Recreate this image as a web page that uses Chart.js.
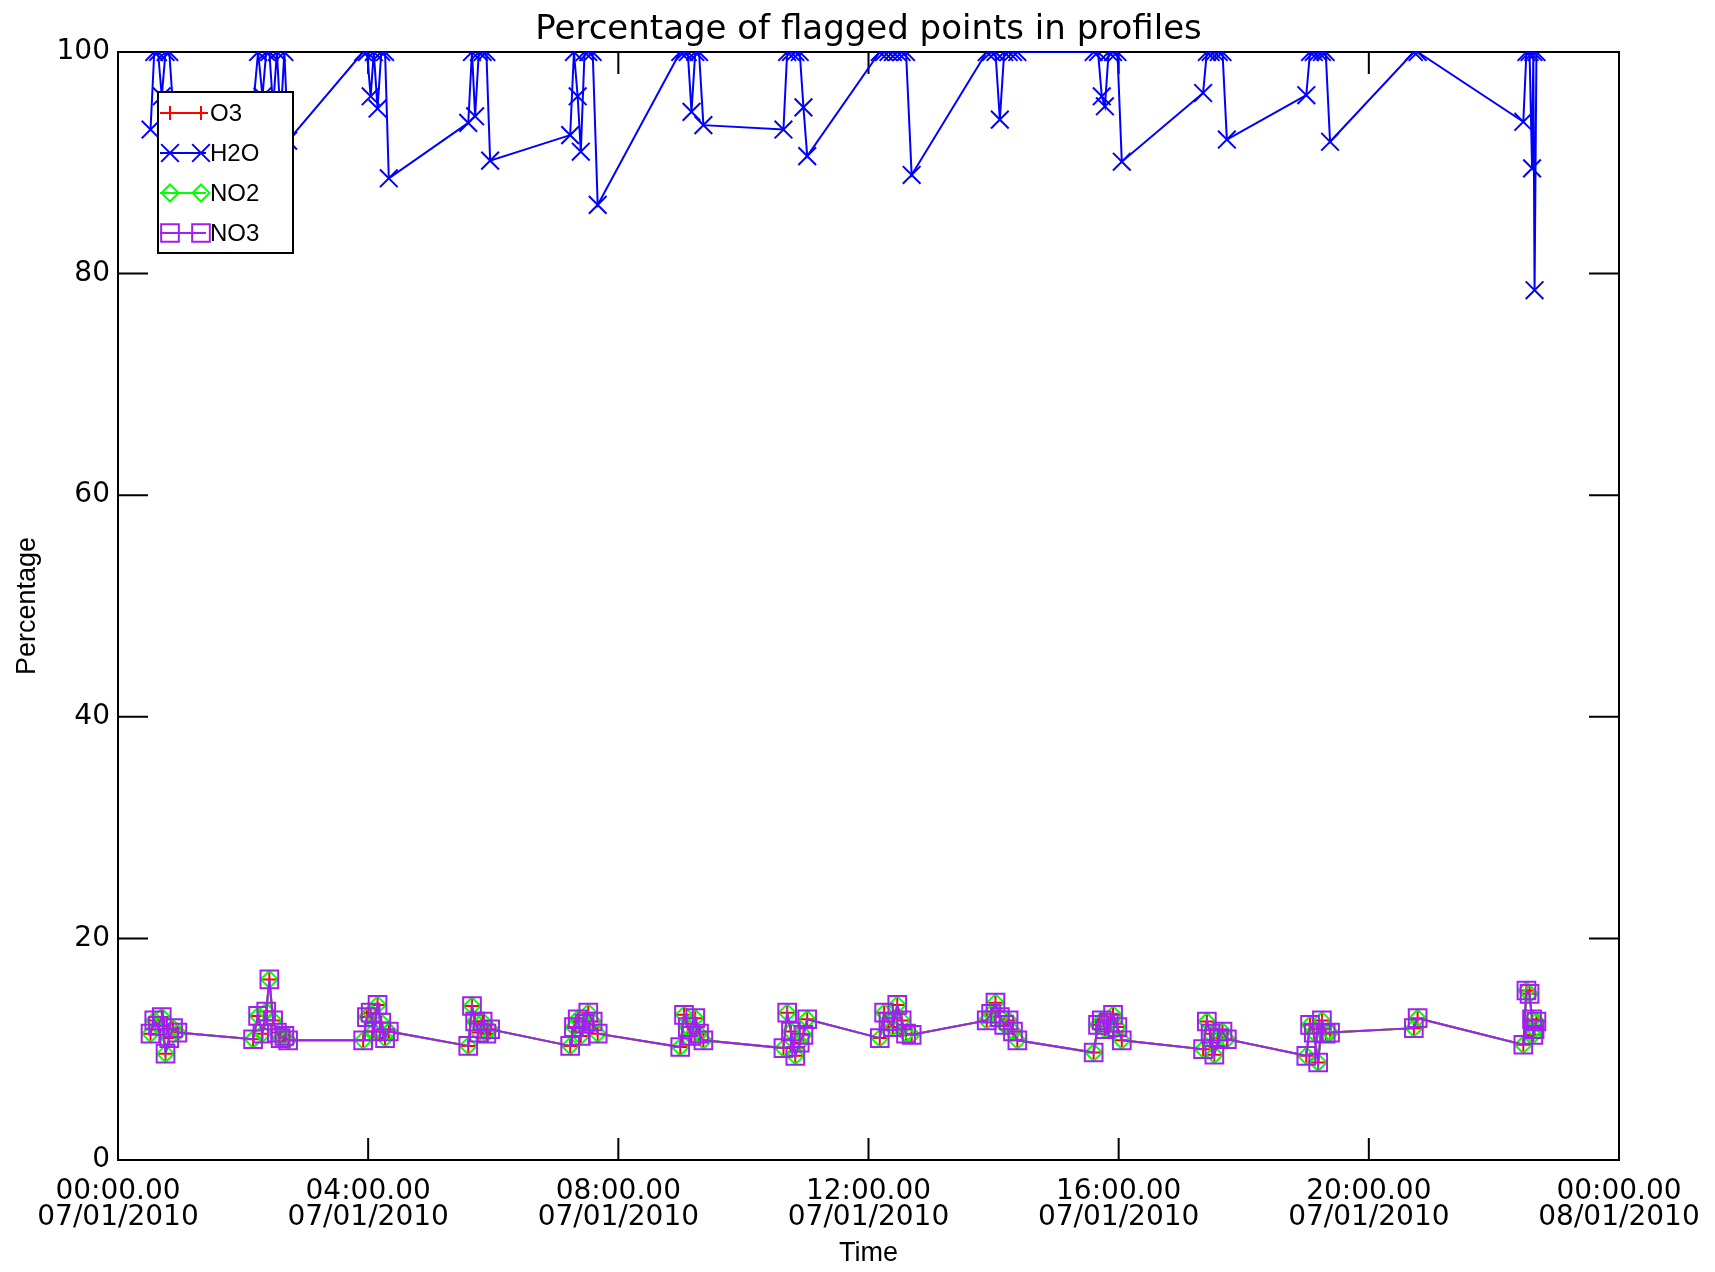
<!DOCTYPE html>
<html>
<head>
<meta charset="utf-8">
<title>Percentage of flagged points in profiles</title>
<script src="https://cdn.jsdelivr.net/npm/chart.js@4.4.1/dist/chart.umd.min.js"></script>
<style>
  html, body { margin: 0; padding: 0; background: #fff; }
  canvas { display: block; }
</style>
</head>
<body>
<canvas id="chart" width="1715" height="1272"></canvas>
<script>
// profile times, hours after 00:00 07/01/2010 (one row per orbit pass)
const HOURS = [
  0.52, 0.58, 0.64, 0.70, 0.76, 0.82, 0.88, 0.95,
  2.16, 2.24, 2.31, 2.37, 2.42, 2.48, 2.54, 2.60, 2.66, 2.72,
  3.92, 3.98, 4.04, 4.09, 4.15, 4.21, 4.27, 4.33,
  5.60, 5.66, 5.71, 5.77, 5.83, 5.89, 5.95,
  7.23, 7.29, 7.35, 7.40, 7.46, 7.52, 7.59, 7.67,
  8.99, 9.05, 9.11, 9.17, 9.23, 9.29, 9.36,
  10.64, 10.70, 10.76, 10.83, 10.90, 10.96, 11.02,
  12.18, 12.25, 12.32, 12.39, 12.46, 12.53, 12.60, 12.69,
  13.89, 13.96, 14.03, 14.10, 14.17, 14.24, 14.31, 14.38,
  15.60, 15.67, 15.73, 15.78, 15.84, 15.91, 15.98, 16.05,
  17.35, 17.41, 17.47, 17.53, 17.60, 17.66, 17.73,
  19.00, 19.06, 19.12, 19.19, 19.25, 19.31, 19.38,
  20.72, 20.78,
  22.47, 22.52, 22.57, 22.61, 22.63, 22.65, 22.68,
];

const H2O = [
  93, 100, 100, 96, 100, 100, 95, 94,
  95, 100, 96, 100, 100, 95, 100, 94, 100, 92,
  100, 100, 96, 100, 94.9, 100, 100, 88.6,
  93.6, 100, 94.2, 100, 100, 100, 90.2,
  92.5, 100, 96, 91.0, 100, 100, 100, 86.2,
  100, 100, 100, 94.6, 100, 100, 93.4,
  93.0, 100, 100, 100, 100, 95, 90.6,
  100, 100, 100, 100, 100, 100, 100, 88.9,
  100, 100, 100, 93.9, 100, 100, 100, 100,
  100, 100, 96, 95.1, 100, 100, 100, 90.1,
  96.3, 100, 100, 100, 100, 100, 92.1,
  96.1, 100, 100, 100, 100, 100, 91.9,
  100, 100,
  93.7, 100, 100, 89.5, 100, 78.5, 100,
];

const O3 = [
  11.4, 12.6, 12.1, 12.9, 9.6, 11.0, 11.9, 11.5,
  10.9, 13.0, 11.4, 13.4, 16.3, 12.6, 11.5, 11.0, 11.2, 10.8,
  10.8, 12.9, 13.3, 11.6, 14.0, 12.4, 11.0, 11.6,
  10.3, 13.9, 12.5, 11.5, 12.5, 11.4, 11.8,
  10.3, 12.0, 12.7, 11.2, 12.3, 13.3, 12.5, 11.4,
  10.2, 13.1, 12.0, 11.2, 12.8, 11.4, 10.8,
  10.1, 13.3, 11.6, 9.4, 10.6, 11.3, 12.7,
  11.0, 13.3, 12.5, 12.0, 14.0, 12.6, 11.4, 11.3,
  12.6, 13.2, 14.2, 12.9, 12.2, 12.6, 11.6, 10.8,
  9.7, 12.2, 12.6, 11.8, 12.4, 13.1, 12.0, 10.8,
  10.0, 12.5, 11.4, 9.5, 11.0, 11.6, 10.9,
  9.4, 12.2, 11.5, 8.8, 12.6, 11.4, 11.5,
  11.9, 12.8,
  10.4, 15.3, 15.0, 12.7, 11.3, 11.8, 12.5,
];

const NO2 = [
  11.4, 12.6, 12.1, 12.9, 9.6, 11.0, 11.9, 11.5,
  10.9, 13.0, 11.4, 13.4, 16.3, 12.6, 11.5, 11.0, 11.2, 10.8,
  10.8, 12.9, 13.3, 11.6, 14.0, 12.4, 11.0, 11.6,
  10.3, 13.9, 12.5, 11.5, 12.5, 11.4, 11.8,
  10.3, 12.0, 12.7, 11.2, 12.3, 13.3, 12.5, 11.4,
  10.2, 13.1, 12.0, 11.2, 12.8, 11.4, 10.8,
  10.1, 13.3, 11.6, 9.4, 10.6, 11.3, 12.7,
  11.0, 13.3, 12.5, 12.0, 14.0, 12.6, 11.4, 11.3,
  12.6, 13.2, 14.2, 12.9, 12.2, 12.6, 11.6, 10.8,
  9.7, 12.2, 12.6, 11.8, 12.4, 13.1, 12.0, 10.8,
  10.0, 12.5, 11.4, 9.5, 11.0, 11.6, 10.9,
  9.4, 12.2, 11.5, 8.8, 12.6, 11.4, 11.5,
  11.9, 12.8,
  10.4, 15.3, 15.0, 12.7, 11.3, 11.8, 12.5,
];

const NO3 = [
  11.4, 12.6, 12.1, 12.9, 9.6, 11.0, 11.9, 11.5,
  10.9, 13.0, 11.4, 13.4, 16.3, 12.6, 11.5, 11.0, 11.2, 10.8,
  10.8, 12.9, 13.3, 11.6, 14.0, 12.4, 11.0, 11.6,
  10.3, 13.9, 12.5, 11.5, 12.5, 11.4, 11.8,
  10.3, 12.0, 12.7, 11.2, 12.3, 13.3, 12.5, 11.4,
  10.2, 13.1, 12.0, 11.2, 12.8, 11.4, 10.8,
  10.1, 13.3, 11.6, 9.4, 10.6, 11.3, 12.7,
  11.0, 13.3, 12.5, 12.0, 14.0, 12.6, 11.4, 11.3,
  12.6, 13.2, 14.2, 12.9, 12.2, 12.6, 11.6, 10.8,
  9.7, 12.2, 12.6, 11.8, 12.4, 13.1, 12.0, 10.8,
  10.0, 12.5, 11.4, 9.5, 11.0, 11.6, 10.9,
  9.4, 12.2, 11.5, 8.8, 12.6, 11.4, 11.5,
  11.9, 12.8,
  10.4, 15.3, 15.0, 12.7, 11.3, 11.8, 12.5,
];

const TICK_TIMES = ['00:00.00', '04:00.00', '08:00.00', '12:00.00', '16:00.00', '20:00.00', '00:00.00'];
const TICK_DATES = ['07/01/2010', '07/01/2010', '07/01/2010', '07/01/2010', '07/01/2010', '07/01/2010', '08/01/2010'];

const toPoints = (values) => HOURS.map((h, i) => ({ x: h, y: values[i] }));

// IDL style box: frame on all four sides, ticks pointing inwards
const frameTicks = {
  id: 'frameTicks',
  beforeDatasetsDraw(chart) {
    const { ctx, chartArea: a, scales: { x, y } } = chart;
    ctx.save();
    ctx.strokeStyle = '#000';
    ctx.lineWidth = 2;
    ctx.strokeRect(a.left, a.top, a.right - a.left, a.bottom - a.top);
    ctx.beginPath();
    x.ticks.forEach((t) => {
      const px = x.getPixelForValue(t.value);
      ctx.moveTo(px, a.bottom); ctx.lineTo(px, a.bottom - 22);
      ctx.moveTo(px, a.top); ctx.lineTo(px, a.top + 22);
    });
    y.ticks.forEach((t) => {
      const py = y.getPixelForValue(t.value);
      ctx.moveTo(a.left, py); ctx.lineTo(a.left + 30, py);
      ctx.moveTo(a.right, py); ctx.lineTo(a.right - 30, py);
    });
    ctx.stroke();
    ctx.restore();
  },
};

// boxed legend sitting inside the plot, line + two symbols per entry
const boxLegend = {
  id: 'boxLegend',
  afterDatasetsDraw(chart) {
    const { ctx, chartArea: a } = chart;
    const left = a.left + 40;
    const top = a.top + 40;
    ctx.save();
    ctx.fillStyle = '#fff';
    ctx.fillRect(left, top, 135, 161);
    ctx.strokeStyle = '#000';
    ctx.lineWidth = 2;
    ctx.strokeRect(left, top, 135, 161);
    ctx.font = '24px "Liberation Sans"';
    ctx.textBaseline = 'middle';
    chart.data.datasets.forEach((ds, i) => {
      const cy = top + 21 + i * 40;
      ctx.strokeStyle = ds.borderColor;
      ctx.lineWidth = 2;
      ctx.beginPath();
      ctx.moveTo(left + 2, cy);
      ctx.lineTo(left + 48, cy);
      ctx.stroke();
      ctx.fillStyle = 'rgba(0,0,0,0)';
      [left + 12, left + 43].forEach((mx) => {
        Chart.helpers.drawPoint(ctx, {
          pointStyle: ds.pointStyle, radius: ds.pointRadius, rotation: 0, borderWidth: 2,
        }, mx, cy);
      });
      ctx.fillStyle = '#000';
      ctx.fillText(ds.label, left + 52, cy + 1);
    });
    ctx.restore();
  },
};

const line = (label, values, colour, pointStyle, pointRadius, order) => ({
  label,
  data: toPoints(values),
  borderColor: colour,
  borderWidth: 2,
  pointStyle,
  pointRadius,
  pointHoverRadius: pointRadius,
  pointBorderColor: colour,
  pointBorderWidth: 2,
  pointBackgroundColor: 'rgba(0,0,0,0)',
  tension: 0,
  fill: false,
  clip: 0,
  order,
});

Chart.defaults.color = '#000';
Chart.defaults.font.family = '"DejaVu Sans"';

new Chart(document.getElementById('chart'), {
  type: 'line',
  data: {
    datasets: [
      line('O3', O3, '#ff0000', 'cross', 7, 3),
      line('H2O', H2O, '#0000ff', 'crossRot', 12.5, 2),
      line('NO2', NO2, '#00ff00', 'rectRot', 8.5, 1),
      line('NO3', NO3, '#a020f0', 'rect', 12.5, 0),
    ],
  },
  options: {
    responsive: false,
    animation: false,
    devicePixelRatio: 1,
    layout: { padding: { left: 0, top: 0, right: 96, bottom: 0 } },
    plugins: {
      legend: { display: false },
      tooltip: { enabled: false },
      title: {
        display: true,
        fullSize: false, // centre over the plot box, not the canvas
        text: 'Percentage of flagged points in profiles',
        font: { family: '"DejaVu Sans"', size: 34, weight: 'normal', lineHeight: 1.2 },
        color: '#000',
        padding: { top: 10, bottom: 1.2 },
      },
    },
    scales: {
      x: {
        type: 'linear',
        min: 0,
        max: 24,
        grid: { display: false, drawTicks: false },
        border: { display: false },
        ticks: {
          stepSize: 4,
          autoSkip: false,
          maxRotation: 0,
          padding: 19,
          font: { size: 28, lineHeight: 0.93 },
          callback: (value, index) => [TICK_TIMES[index], TICK_DATES[index]],
        },
        title: {
          display: true,
          text: 'Time',
          font: { family: '"Liberation Sans"', size: 27, lineHeight: 1.2 },
          padding: { top: 0, bottom: 2 },
        },
        afterFit: (scale) => {
          scale.height = 112;
          scale.paddingLeft = 0;
          scale.paddingRight = 0;
        },
      },
      y: {
        min: 0,
        max: 100,
        grid: { display: false, drawTicks: false },
        border: { display: false },
        ticks: { stepSize: 20, padding: 8, font: { size: 28 } },
        title: {
          display: true,
          text: 'Percentage',
          font: { family: '"Liberation Sans"', size: 27, lineHeight: 1.2 },
          padding: { top: 11, bottom: 0 },
        },
        afterFit: (scale) => {
          scale.width = 118;
          scale.paddingTop = 0;
          scale.paddingBottom = 0;
        },
      },
    },
  },
  plugins: [frameTicks, boxLegend],
});
</script>
</body>
</html>
